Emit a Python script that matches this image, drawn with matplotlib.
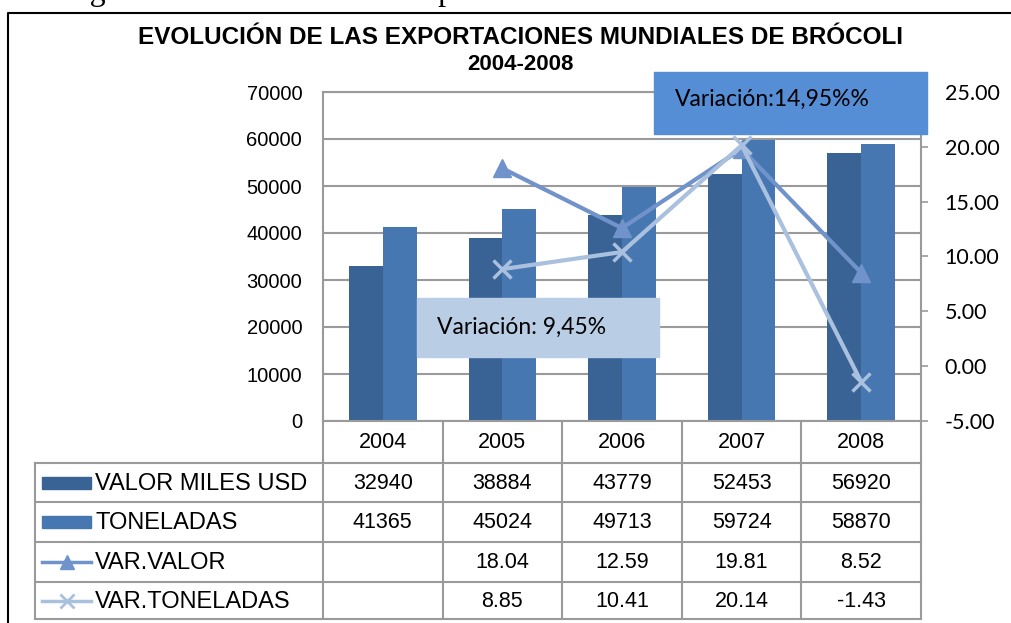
import numpy as np
import matplotlib
matplotlib.use("Agg")
from matplotlib import pyplot as plt
from matplotlib.patches import Rectangle

# data
years = ['2004', '2005', '2006', '2007', '2008']
valor = [32940, 38884, 43779, 52453, 56920]
toneladas = [41365, 45024, 49713, 59724, 58870]
var_valor = [None, 18.04, 12.59, 19.81, 8.52]
var_ton = [None, 8.85, 10.41, 20.14, -1.43]
row_names = ['VALOR MILES USD', 'TONELADAS', 'VAR.VALOR', 'VAR.TONELADAS']
box_hi = 'Variación:14,95%%'
box_lo = 'Variación: 9,45%'

c_valor = '#3A6395'
c_ton = '#4777B1'
c_vv = '#7093CB'
c_vt = '#AAC0DF'
grey = '#9A9A9A'

W, H = 1011, 623
fig = plt.figure(figsize=(W / 100, H / 100), dpi=100)

# plot area in pixels
pl, pr, pt, pb = 323, 921, 92, 421
ax = fig.add_axes([pl / W, 1 - pb / H, (pr - pl) / W, (pb - pt) / H])
x = np.arange(len(years))
bw = 0.283
ax.bar(x - bw / 2, valor, bw, color=c_valor, zorder=2)
ax.bar(x + bw / 2, toneladas, bw, color=c_ton, zorder=2)
ax.set_xlim(-0.5, len(years) - 0.5)
ax.set_ylim(0, 70000)
ax.set_yticks(range(0, 70001, 10000))
ax.set_xticks([])
ax.grid(axis='y', color=grey, lw=1.5, zorder=0)
ax.tick_params(axis='y', length=0, pad=15, labelsize=14.5)
for lab in ax.get_yticklabels():
    lab.set_family('Liberation Sans')
for s in ax.spines.values():
    s.set_color(grey)
    s.set_linewidth(1.5)

ax2 = ax.twinx()
xv = [i for i, v in enumerate(var_valor) if v is not None]
ax2.plot(xv, [var_valor[i] for i in xv], color=c_vv, lw=3, marker='^', ms=13,
         zorder=3)
xt = [i for i, v in enumerate(var_ton) if v is not None]
ax2.plot(xt, [var_ton[i] for i in xt], color=c_vt, lw=3, marker='x', ms=13,
         mew=2.5, zorder=4)
ax2.set_ylim(-5, 25)
ax2.set_yticks(np.arange(-5, 26, 5))
ax2.set_yticklabels(['%.2f' % v for v in np.arange(-5, 26, 5)])
ax2.tick_params(axis='y', length=5, width=1.2, color=grey, pad=12, labelsize=15.5)
for lab in ax2.get_yticklabels():
    lab.set_family('Lato')
for s in ax2.spines.values():
    s.set_visible(False)

# overlay in pixel coordinates for table, boxes, frame
ov = fig.add_axes([0, 0, 1, 1])
ov.set_xlim(0, W)
ov.set_ylim(H, 0)
ov.axis('off')

# outer frame
ov.plot([8, 8, W + 5], [H + 5, 13, 13], color='black', lw=1.5)
ov.text(63, 0, 'Figura 8. Evolución de las exportaciones mundiales de brócoli',
        family='Liberation Serif', fontsize=23, va='baseline', ha='left')

# title
fig.text(520 / W, 1 - 37 / H, 'EVOLUCIÓN DE LAS EXPORTACIONES MUNDIALES DE BRÓCOLI',
         ha='center', va='center', fontsize=17.5, fontweight='bold',
         family='Liberation Sans')
fig.text(520 / W, 1 - 64 / H, '2004-2008', ha='center', va='center', fontsize=16,
         fontweight='bold', family='Liberation Sans')

# table
col_w = (pr - pl) / len(years)
row_y = [421, 463, 502, 542, 582, 619]
tl = 35
for y in row_y[1:]:
    ov.plot([tl, pr], [y, y], color=grey, lw=1.5)
ov.plot([tl, tl], [row_y[1], row_y[-1]], color=grey, lw=1.5)
for i in range(len(years) + 1):
    xx = pl + i * col_w
    ov.plot([xx, xx], [row_y[0], row_y[-1]], color=grey, lw=1.5)

tfont = dict(family='Liberation Sans', fontsize=15.5, ha='center', va='center')
rows = [valor, toneladas, var_valor, var_ton]
for i, yr in enumerate(years):
    cx = pl + (i + 0.5) * col_w
    ov.text(cx, (row_y[0] + row_y[1]) / 2, yr, **tfont)
    for r, vals in enumerate(rows):
        v = vals[i]
        if v is None:
            continue
        s = str(v) if r < 2 else '%.2f' % v
        ov.text(cx, (row_y[r + 1] + row_y[r + 2]) / 2 + 1, s, **tfont)

for r, name in enumerate(row_names):
    cy = (row_y[r + 1] + row_y[r + 2]) / 2
    if r == 0:
        ov.add_patch(Rectangle((42, cy - 6), 49, 12, color=c_valor))
    elif r == 1:
        ov.add_patch(Rectangle((42, cy - 6), 49, 12, color=c_ton))
    elif r == 2:
        ov.plot([42, 91], [cy, cy], color=c_vv, lw=2.5)
        ov.plot([66.5], [cy], marker='^', color=c_vv, ms=10)
    else:
        ov.plot([42, 91], [cy, cy], color=c_vt, lw=2.5)
        ov.plot([66.5], [cy], marker='x', color=c_vt, ms=10, mew=2)
    ov.text(95, cy + 1, name, family='Liberation Sans', fontsize=17,
            ha='left', va='center')

# annotation boxes
ov.add_patch(Rectangle((654, 72), 273, 62, color='#558ED5', zorder=5))
ov.text(675, 99, box_hi, family='Lato', fontsize=16.5, ha='left', va='center',
        zorder=6)
ov.add_patch(Rectangle((417, 298), 242, 59, color='#B9CDE5', zorder=5))
ov.text(437, 327, box_lo, family='Lato', fontsize=16.5, ha='left', va='center',
        zorder=6)

fig.savefig('out.png', dpi=100)
